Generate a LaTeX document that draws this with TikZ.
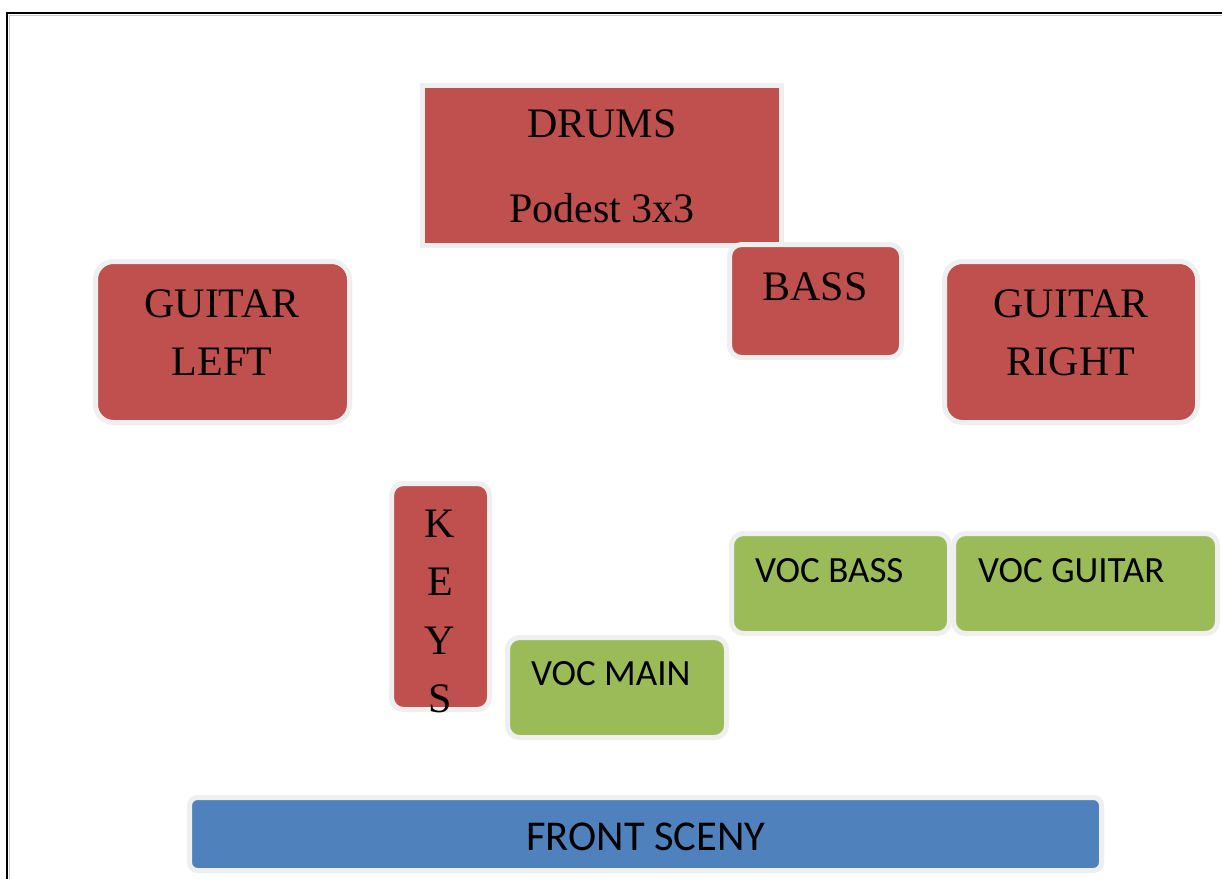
\documentclass[tikz,border=0pt]{standalone}
\usepackage{fontspec}
\setmainfont{Liberation Serif}
\newfontfamily\calfont{Carlito}
\definecolor{stred}{HTML}{C0504D}
\definecolor{stgreen}{HTML}{9BBB59}
\definecolor{stblue}{HTML}{4F81BD}
\definecolor{rim}{HTML}{EFEFEF}
\begin{document}
\begin{tikzpicture}[x=1pt,y=-1pt,
  box/.style={draw=rim,line width=5pt,inner sep=0pt,outer sep=0pt},
  ser/.style={inner sep=0pt,font=\fontsize{42}{50}\selectfont,anchor=base},
  san/.style={inner sep=0pt,font=\calfont\fontsize{37}{44}\selectfont,anchor=base west}]
\useasboundingbox (0,0) rectangle (1222,878);
\fill[white] (0,0) rectangle (1222,878);
\draw[line width=2.4pt] (7,880) -- (7,13) -- (1224,13);
\draw[gray!40,line width=1pt] (9.7,880) -- (9.7,15.7) -- (1224,15.7);
% boxes: fill extents + 2.5 on each side
\node[box,fill=stred,minimum width=359pt,minimum height=160pt] (drums) at (602,165.5) {};
\node[box,fill=stred,rounded corners=12pt,minimum width=172pt,minimum height=113pt] (bass) at (815.5,301) {};
\node[box,fill=stred,rounded corners=18pt,minimum width=254pt,minimum height=161pt] (gl) at (222.5,342) {};
\node[box,fill=stred,rounded corners=18pt,minimum width=253pt,minimum height=161pt] (gr) at (1071,342) {};
\node[box,fill=stred,rounded corners=12pt,minimum width=98pt,minimum height=226pt] (keys) at (440.5,596.5) {};
\node[box,fill=stgreen,rounded corners=12pt,minimum width=219pt,minimum height=100pt] (vm) at (617,687.5) {};
\node[box,fill=stgreen,rounded corners=12pt,minimum width=218pt,minimum height=100pt] (vb) at (840.5,583.5) {};
\node[box,fill=stgreen,rounded corners=12pt,minimum width=264pt,minimum height=100pt] (vg) at (1085.5,583.5) {};
\node[box,fill=stblue,rounded corners=8pt,minimum width=912pt,minimum height=73pt] (front) at (645.5,834) {};
% texts
\node[ser] (t1) at (602,137) {DRUMS};
\node[ser] (t2) at (602,222) {Podest 3x3};
\node[ser] (t3) at (815,300) {BASS};
\node[ser] (t4) at (222,317) {GUITAR};
\node[ser] (t5) at (222,375) {LEFT};
\node[ser] (t6) at (1071,317) {GUITAR};
\node[ser] (t7) at (1071,375) {RIGHT};
\node[ser] (k1) at (440,537) {K};
\node[ser] (k2) at (440,595) {E};
\node[ser] (k3) at (440,654) {Y};
\node[ser] (k4) at (440,712) {S};
\node[san] (v1) at (531,685) {VOC MAIN};
\node[san] (v2) at (755,582) {VOC BASS};
\node[san] (v3) at (978,582) {VOC GUITAR};
\node[inner sep=0pt,anchor=base,font=\calfont\fontsize{42.5}{50}\selectfont] (f1) at (646,850) {FRONT SCENY};
\end{tikzpicture}
\end{document}
